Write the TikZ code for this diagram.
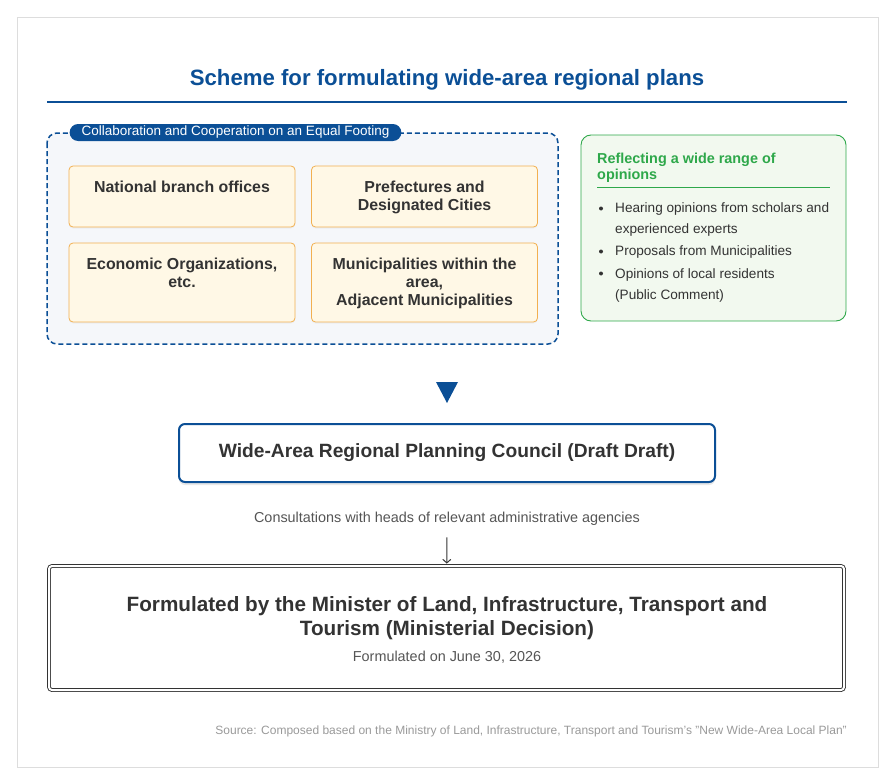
\documentclass[tikz,border=0pt]{standalone}
\usepackage{fontspec}
\setmainfont{Liberation Sans}
\usepackage{xcolor}
\usepackage{tikz}
\usetikzlibrary{arrows.meta,positioning,shadows}

\definecolor{planblue}{HTML}{0B4F96}
\definecolor{panelgray}{HTML}{F5F7FA}
\definecolor{memberfill}{HTML}{FFF8E6}
\definecolor{memberline}{HTML}{F2B050}
\definecolor{opgreen}{HTML}{2EA84A}
\definecolor{opfill}{HTML}{F2F9EF}
\definecolor{inkdark}{HTML}{333333}
\definecolor{inkgray}{HTML}{555555}
\definecolor{srcgray}{HTML}{999999}
\definecolor{framegray}{HTML}{DDDDDD}

\begin{document}
\begin{tikzpicture}[x=1pt,y=-1pt,>=Stealth,
  member/.style={draw=memberline,fill=memberfill,rounded corners=4pt,line width=0.8pt,
    minimum width=226pt,inner sep=0pt,
    drop shadow={opacity=0.07,shadow xshift=0pt,shadow yshift=-1.5pt}},
  membertext/.style={anchor=base,align=center,inner sep=0pt,text=inkdark,
    font=\fontsize{15.9}{18}\selectfont\bfseries},
  opinion/.style={anchor=base west,align=left,inner sep=0pt,text=inkdark,
    font=\fontsize{13.6}{21}\selectfont},
  plain/.style={anchor=base,inner sep=0pt,align=center}]
\useasboundingbox (0,0) rectangle (894,784);
\draw[framegray,line width=0.8pt] (17,17) rectangle (878,767);

% title
\node[plain,text=planblue,font=\fontsize{22.2}{26}\selectfont\bfseries] (title) at (447,85.9)
  {Scheme for formulating wide-area regional plans};
\draw[planblue,line width=2.5pt] (47,102) -- (847,102);

% collaboration panel
\draw[planblue,fill=panelgray,line width=1.5pt,dash pattern=on 5pt off 3pt,rounded corners=10pt]
  (47,133) rectangle (558,344);
\node[fill=planblue,text=white,rounded corners=8.5pt,minimum height=17pt,inner xsep=12pt,inner ysep=0pt,
  font=\fontsize{13.5}{15}\selectfont] (collab) at (235.5,132.5)
  {Collaboration and Cooperation on an Equal Footing};

\node[member,minimum height=61pt] (branch) at (182,196.5) {};
\node[member,minimum height=61pt] (pref) at (424.5,196.5) {};
\node[member,minimum height=79pt] (econ) at (182,282.5) {};
\node[member,minimum height=79pt] (muni) at (424.5,282.5) {};
% base of a multi-line node is its last line
\node[membertext] (branchtext) at (182,192.7) {National branch offices};
\node[membertext] (preftext) at (424.5,210.7) {Prefectures and\\Designated Cities};
\node[membertext] (econtext) at (182,287.7) {Economic Organizations,\\etc.};
\node[membertext] (munitext) at (424.5,305.7) {Municipalities within the\\area,\\Adjacent Municipalities};

% opinions panel
\draw[opgreen,fill=opfill,line width=0.9pt,rounded corners=10pt] (581,135) rectangle (846,321);
\node[anchor=base west,align=left,inner sep=0pt,text=opgreen,
  font=\fontsize{14.4}{16}\selectfont\bfseries] (optitle) at (597,179.2)
  {Reflecting a wide range of\\opinions};
\draw[opgreen,line width=1pt] (597,187) -- (830,187);
\node[opinion] (hearing) at (615,233.9) {Hearing opinions from scholars and\\experienced experts};
\node[opinion] (proposals) at (615,255.9) {Proposals from Municipalities};
\node[opinion] (residents) at (615,299.9) {Opinions of local residents\\(Public Comment)};
\foreach \y in {208.5,251.5,273.5}
  \fill[inkdark] (601,\y) circle (2pt);

% council
\fill[planblue] (436,382) -- (458,382) -- (447,403) -- cycle;
\node[draw=planblue,fill=white,line width=2pt,rounded corners=6pt,minimum width=536pt,minimum height=58pt,
  drop shadow={opacity=0.18,shadow xshift=0pt,shadow yshift=-3pt},
  text=inkdark,font=\fontsize{19.2}{22}\selectfont\bfseries] (council) at (447,453)
  {Wide-Area Regional Planning Council (Draft Draft)};
\node[plain,text=inkgray,font=\fontsize{14.4}{16}\selectfont] (consult) at (447,522.2)
  {Consultations with heads of relevant administrative agencies};

% decision
\node[draw=inkdark,double=white,double distance=2pt,line width=0.9pt,rounded corners=3pt,
  minimum width=795pt,minimum height=124pt] (final) at (446.5,628) {};
\draw[-{Straight Barb[length=3.5pt,width=8pt]},inkdark,line width=1pt,shorten <=12pt,shorten >=2pt]
  (consult) -- (final);
\node[plain,text=inkdark,font=\fontsize{20.7}{24}\selectfont\bfseries] (minister) at (447,635.5)
  {Formulated by the Minister of Land, Infrastructure, Transport and\\Tourism (Ministerial Decision)};
\node[plain,text=inkgray,font=\fontsize{14.4}{16}\selectfont] (date) at (447,661.2)
  {Formulated on June 30, 2026};

\node[anchor=base east,inner sep=0pt,text=srcgray,font=\fontsize{12}{14}\selectfont] (source) at (847,734.3)
  {Source: Composed based on the Ministry of Land, Infrastructure, Transport and Tourism's "New Wide-Area Local Plan"};
\end{tikzpicture}
\end{document}
